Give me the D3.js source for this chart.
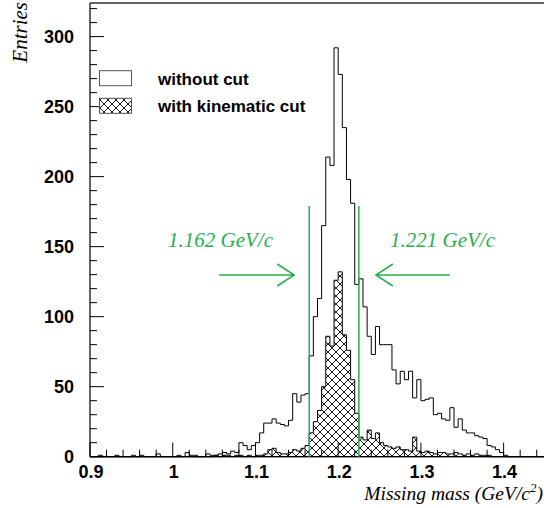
<!DOCTYPE html>
<html>
<head>
<meta charset="utf-8">
<script src="https://cdn.jsdelivr.net/npm/d3@7"></script>
<style>
  body { margin: 0; background: #fff; }
  svg { display: block; }
  .tick-label { font-family: "Liberation Sans", Arial, sans-serif; font-weight: bold; font-size: 18px; }
  .title { font-family: "Liberation Serif", "Times New Roman", serif; font-style: italic; }
</style>
</head>
<body>
<div id="chart"></div>
<script>
// histogram: 110 bins of 0.005 GeV/c^2 from 0.9 to 1.45
var binLow = 0.9, binWidth = 0.005;

// entries without cut
var withoutCut = [
  0, 0, 1, 0, 0, 0, 1, 0, 0, 0,
  1, 0, 1, 0, 0, 0, 2, 0, 0, 0,
  0, 1, 0, 3, 1, 1, 0, 0, 2, 1,
  1, 2, 3, 2, 4, 3, 10, 8, 5, 8,
  10, 17, 24, 24, 27, 24, 23, 22, 26, 45,
  39, 44, 45, 72, 100, 113, 165, 214, 208, 292,
  273, 235, 198, 181, 123, 127, 107, 86, 73, 93,
  80, 80, 80, 62, 52, 61, 55, 61, 42, 55,
  40, 41, 42, 30, 31, 27, 26, 35, 21, 27,
  19, 17, 17, 15, 14, 13, 8, 7, 5, 3,
  1, 0, 0, 0, 0, 0, 0, 0, 0, 0
];

// entries with kinematic cut
var withCut = [
  0, 0, 0, 0, 0, 0, 0, 0, 0, 0,
  0, 0, 0, 0, 0, 0, 0, 0, 0, 0,
  0, 0, 0, 0, 0, 0, 0, 0, 0, 0,
  1, 0, 1, 1, 0, 1, 1, 0, 1, 0,
  1, 1, 2, 5, 6, 3, 2, 2, 3, 5,
  4, 6, 8, 17, 25, 33, 50, 86, 79, 126,
  132, 87, 76, 55, 31, 14, 12, 19, 13, 17,
  10, 8, 7, 6, 7, 5, 5, 4, 14, 4,
  3, 4, 3, 2, 3, 3, 2, 2, 3, 2,
  1, 2, 1, 2, 1, 1, 1, 0, 0, 0,
  0, 0, 0, 0, 0, 0, 0, 0, 0, 0
];

// cut window (bin edges) and their labels
var cutEdges = [1.165, 1.225];
var cutLabels = ["1.162 GeV/c", "1.221 GeV/c"];
var cutLineTop = 179;

var xTicks = [0.9, 1, 1.1, 1.2, 1.3, 1.4];
var yTicks = [0, 50, 100, 150, 200, 250, 300];
var legendLabels = ["without cut", "with kinematic cut"];

var width = 544, height = 508;
var green = "#27ae4f";

var x = d3.scaleLinear().domain([0.9, 1.45]).range([90, 545]);
var y = d3.scaleLinear().domain([0, 324]).range([456.7, 3]);

var svg = d3.select("#chart").append("svg")
    .attr("width", width)
    .attr("height", height);

var defs = svg.append("defs");
var pat = defs.append("pattern")
    .attr("id", "hatch")
    .attr("patternUnits", "userSpaceOnUse")
    .attr("width", 8)
    .attr("height", 8);
pat.append("rect").attr("width", 8).attr("height", 8).attr("fill", "#fff");
pat.append("path")
    .attr("d", "M0,0L8,8M8,0L0,8M-1,7L1,9M7,-1L9,1")
    .attr("stroke", "#000")
    .attr("stroke-width", 0.9);

// step outline of a histogram
function stepPoints(values) {
  var pts = [[x(binLow), y(0)]];
  values.forEach(function (v, i) {
    var lo = binLow + i * binWidth, hi = lo + binWidth;
    pts.push([x(lo), y(v)]);
    pts.push([x(hi), y(v)]);
  });
  pts.push([x(binLow + values.length * binWidth), y(0)]);
  return pts;
}
var line = d3.line();

svg.append("path")
    .attr("d", line(stepPoints(withoutCut)))
    .attr("fill", "none")
    .attr("stroke", "#000")
    .attr("stroke-width", 1);

svg.append("path")
    .attr("d", line(stepPoints(withCut)) + "Z")
    .attr("fill", "url(#hatch)")
    .attr("stroke", "#000")
    .attr("stroke-width", 1);

// axes frame
var g = svg.append("g");
g.append("line").attr("x1", x(0.9)).attr("x2", x(0.9)).attr("y1", y(324)).attr("y2", y(0))
    .attr("stroke", "#000").attr("stroke-width", 1.2);
g.append("line").attr("x1", x(0.9)).attr("x2", width).attr("y1", y(0)).attr("y2", y(0))
    .attr("stroke", "#000").attr("stroke-width", 1.2);
g.append("line").attr("x1", x(0.9)).attr("x2", width).attr("y1", y(324)).attr("y2", y(324))
    .attr("stroke", "#333").attr("stroke-width", 1.3);

// x ticks (inside, pointing up)
d3.range(0, 28).forEach(function (i) {
  var v = 0.9 + i * 0.02;
  if (v > 1.45) return;
  var major = i % 5 === 0;
  g.append("line").attr("x1", x(v)).attr("x2", x(v))
      .attr("y1", y(0)).attr("y2", y(0) - (major ? 14 : 7))
      .attr("stroke", "#000").attr("stroke-width", 1);
});
// y ticks (inside, pointing right)
d3.range(0, 33).forEach(function (i) {
  var v = i * 10;
  var major = i % 5 === 0;
  g.append("line").attr("x1", x(0.9)).attr("x2", x(0.9) + (major ? 14 : 7))
      .attr("y1", y(v)).attr("y2", y(v))
      .attr("stroke", "#000").attr("stroke-width", 1);
});

g.selectAll(".xl").data(xTicks).enter().append("text")
    .attr("class", "tick-label")
    .attr("x", function (d) { return x(d) + 1; })
    .attr("y", 478)
    .attr("text-anchor", "middle")
    .text(function (d) { return d; });

g.selectAll(".yl").data(yTicks).enter().append("text")
    .attr("class", "tick-label")
    .attr("x", 74)
    .attr("y", function (d) { return y(d) + 6.5; })
    .attr("text-anchor", "end")
    .text(function (d) { return d; });

// axis titles
svg.append("text")
    .attr("class", "title")
    .attr("transform", "translate(27,2) rotate(-90)")
    .attr("text-anchor", "end")
    .style("font-size", "21px")
    .text("Entries");

var xt = svg.append("text")
    .attr("class", "title")
    .attr("x", 543)
    .attr("y", 500)
    .attr("text-anchor", "end")
    .style("font-size", "19.5px");
xt.append("tspan").text("Missing mass (GeV/c");
xt.append("tspan").attr("dy", -8).style("font-size", "13px").text("2");
xt.append("tspan").attr("dy", 8).text(")");

// legend
var legend = svg.append("g");
legendLabels.forEach(function (lab, i) {
  var top = 70.7 + i * 27.6;
  legend.append("rect")
      .attr("x", 99.5).attr("y", top)
      .attr("width", 32).attr("height", 15)
      .attr("fill", i === 0 ? "#fff" : "url(#hatch)")
      .attr("stroke", "#555").attr("stroke-width", 1);
  legend.append("text")
      .attr("x", 158)
      .attr("y", top + 14)
      .style("font-family", "'Liberation Sans', Arial, sans-serif")
      .style("font-weight", "bold")
      .style("font-size", "17px")
      .text(lab);
});

// cut window lines, arrows and labels
cutEdges.forEach(function (c, i) {
  svg.append("line")
      .attr("x1", x(c)).attr("x2", x(c))
      .attr("y1", y(cutLineTop)).attr("y2", y(0))
      .attr("stroke", green).attr("stroke-width", 1.5);
});

var arrowY = 275;
function arrow(x0, x1) {
  var dir = x1 > x0 ? -1 : 1;
  svg.append("path")
      .attr("d", "M" + x0 + "," + arrowY + "H" + x1 +
        "M" + (x1 + dir * 17) + "," + (arrowY - 11) + "L" + x1 + "," + arrowY +
        "L" + (x1 + dir * 17) + "," + (arrowY + 11))
      .attr("fill", "none")
      .attr("stroke", green)
      .attr("stroke-width", 1.5);
}
arrow(x(cutEdges[0]) - 90, x(cutEdges[0]) - 15);
arrow(x(cutEdges[1]) + 91, x(cutEdges[1]) + 17);

svg.append("text")
    .attr("class", "title")
    .attr("x", 168).attr("y", 247)
    .style("font-size", "21px")
    .attr("fill", green)
    .text(cutLabels[0]);
svg.append("text")
    .attr("class", "title")
    .attr("x", 390).attr("y", 247)
    .style("font-size", "21px")
    .attr("fill", green)
    .text(cutLabels[1]);
</script>
</body>
</html>
